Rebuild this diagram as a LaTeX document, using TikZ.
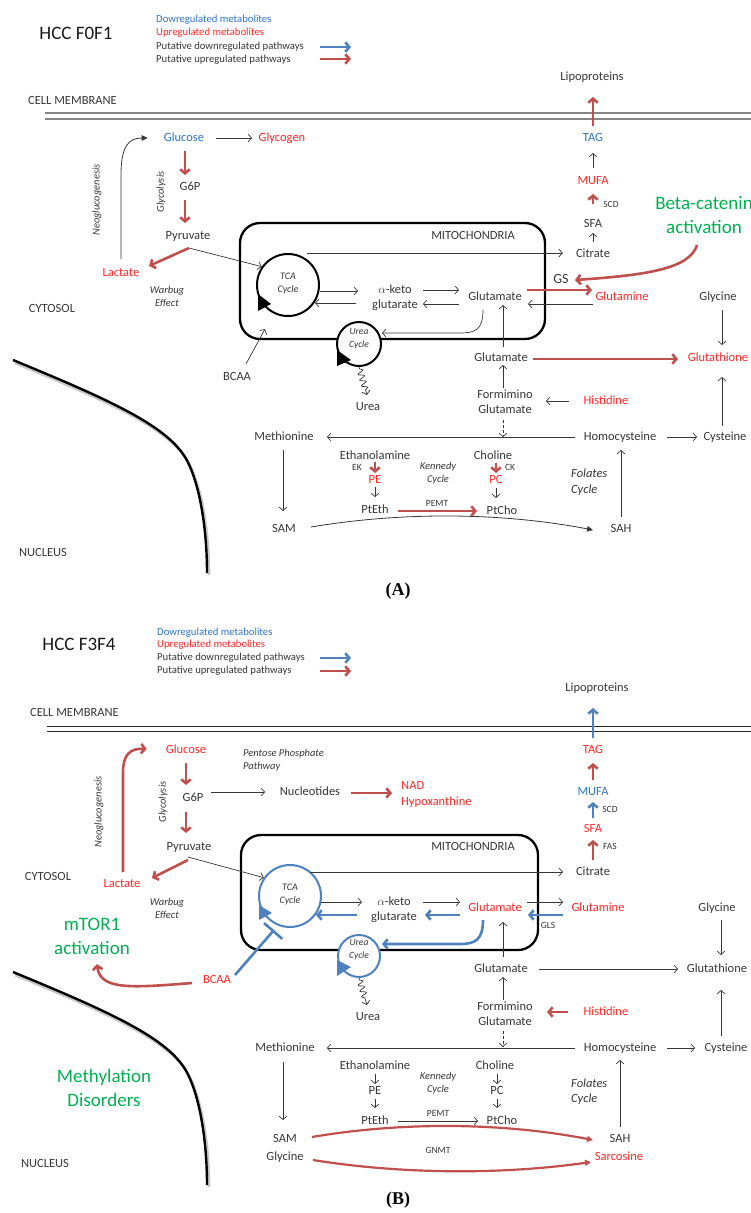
\documentclass[tikz,border=0pt]{standalone}
\usepackage{fontspec}
\setmainfont{Carlito}
\newfontfamily\labfont{Liberation Serif}
\usetikzlibrary{arrows.meta,decorations.pathmorphing,calc}
\definecolor{txtblue}{RGB}{46,117,200}
\definecolor{txtred}{RGB}{255,40,40}
\definecolor{arrred}{RGB}{192,80,77}
\definecolor{arrblue}{RGB}{79,129,189}
\definecolor{txtgreen}{RGB}{0,176,80}
\definecolor{ink}{RGB}{55,55,55}
\definecolor{memgray}{RGB}{135,135,135}
\begin{document}
\begin{tikzpicture}[x=1pt,y=-1pt,
  lbl/.style={font=\fontsize{12.5}{15}\selectfont,text=ink,inner sep=1pt,text height=9pt,text depth=3pt},
  two/.style={font=\fontsize{12.5}{15}\selectfont,text=ink,inner sep=1pt,align=center},
  twoL/.style={font=\fontsize{12.5}{16}\selectfont,text=ink,inner sep=0pt,align=left,anchor=west},
  leg/.style={font=\fontsize{10.7}{13}\selectfont,text=ink,inner sep=0pt,anchor=west},
  sml/.style={font=\fontsize{9.5}{11}\selectfont,text=ink,inner sep=1pt},
  itl/.style={font=\fontsize{10.5}{13}\selectfont\itshape,text=ink,inner sep=1pt,align=center},
  itlL/.style={font=\fontsize{10.5}{13}\selectfont\itshape,text=ink,inner sep=0pt,align=left,anchor=west},
  fol/.style={font=\fontsize{12.5}{15.5}\selectfont\itshape,text=ink,inner sep=0pt,align=left,anchor=west},
  cyc/.style={font=\fontsize{10}{13}\selectfont\itshape,text=ink,inner sep=0pt,align=center},
  grn/.style={font=\fontsize{19}{23.5}\selectfont,text=txtgreen,inner sep=0pt,align=center},
  ttl/.style={font=\fontsize{19}{22}\selectfont,text=black!90,inner sep=0pt},
  pnl/.style={font=\labfont\bfseries\fontsize{18}{20}\selectfont,inner sep=0pt},
  upm/.style={text=txtred}, dnm/.style={text=txtblue},
  tarr/.style={draw=ink,line width=0.7pt,-{Straight Barb[length=3.5pt,width=8pt]}},
  tarrf/.style={draw=ink,line width=0.8pt,-{Triangle[length=6pt,width=5.5pt]}},
  rarr/.style={draw=arrred,line width=2.6pt,-{Straight Barb[length=4pt,width=9.5pt]}},
  barr/.style={draw=arrblue,line width=2.6pt,-{Straight Barb[length=4pt,width=9.5pt]}},
  mito/.style={draw=black,line width=2.3pt,rounded corners=20pt,inner sep=0pt},
  circA/.style={circle,draw=black,line width=2pt,fill=white,inner sep=0pt},
  circB/.style={circle,draw=arrblue,line width=2pt,fill=white,inner sep=0pt},
  nuc/.style={draw=black,line width=2.4pt},
  nucs/.style={draw=black!22,line width=2.6pt},
  sq/.style={decorate,decoration={snake,amplitude=3pt,segment length=6pt,pre length=2pt,post length=5pt}},
]
\useasboundingbox (0,0) rectangle (751,1213);

% ================= PANEL A =================
\node[ttl] (ttlA) at (76,33) {HCC F0F1};
\node[leg,dnm] (lg1A) at (156,20) {Dowregulated metabolites};
\node[leg,upm] (lg2A) at (156,33) {Upregulated metabolites};
\node[leg] (lg3A) at (156,47) {Putative downregulated pathways};
\node[leg] (lg4A) at (156,60) {Putative upregulated pathways};
\draw[barr] ($(lg3A.west)+(164,0)$) -- ++(31,0);
\draw[rarr] ($(lg4A.west)+(164,-1)$) -- ++(31,0);
\node[lbl,anchor=west] (cmA) at (27,101) {CELL MEMBRANE};
\draw[memgray,line width=1.3pt] (45,113) -- (751,113) (45,119) -- (751,119);

% nucleus
\draw[nucs] (15,363) .. controls (112,403) and (167,428) .. (187,460) .. controls (202,485) and (209,533) .. (209,575);
\draw[nuc] (13,360) .. controls (110,400) and (165,425) .. (185,457) .. controls (200,482) and (207,530) .. (207,573);
\node[lbl] (nucA) at (43,553) {NUCLEUS};
\node[lbl] (cytA) at (52,309) {CYTOSOL};

% glycolysis
\node[lbl,dnm] (glcA) at (184,138) {Glucose};
\node[lbl,upm] (gcgA) at (282,138) {Glycogen};
\node[lbl] (g6pA) at (190,187) {G6P};
\node[lbl] (pyrA) at (188,236) {Pyruvate};
\node[lbl,upm] (lacA) at (121,273) {Lactate};
\node[itl,rotate=90] (glysA) at (161,192) {Glycolysis};
\node[itl,rotate=90] (neoA) at (97,200) {Neoglucogenesis};
\node[itl] (warA) at (167,296) {Warbug\\Effect};
\draw[tarr] ($(glcA.center)+(32,0)$) -- ($(gcgA.center)+(-30,0)$);
\draw[rarr] ($(glcA.center)+(1,13)$) -- ($(g6pA.center)+(-5,-12)$);
\draw[rarr] ($(g6pA.center)+(-5,13)$) -- ($(pyrA.center)+(-3,-13)$);
\draw[rarr] ($(pyrA.center)+(1,12)$) -- ($(lacA.center)+(28,-7)$);
\draw[tarrf,shorten >=15pt] ($(lacA.center)+(0,-14)$) -- (121,175) .. controls (121,147) and (128,138) .. (glcA.west);

% lipids
\node[lbl] (lipA) at (592,77) {Lipoproteins};
\node[lbl,dnm] (tagA) at (593,138) {TAG};
\node[lbl,upm] (mufaA) at (593,181) {MUFA};
\node[lbl] (sfaA) at (593,224) {SFA};
\node[lbl] (citA) at (593,254) {Citrate};
\node[sml] (scdA) at (611,204) {SCD};
\draw[rarr] ($(tagA.center)+(0,-12)$) -- ($(lipA.center)+(1,20)$);
\draw[tarr] ($(mufaA.center)+(0,-13)$) -- ($(tagA.center)+(0,15)$);
\draw[rarr] ($(sfaA.center)+(0,-20)$) -- ($(mufaA.center)+(0,13)$);
\draw[tarr] ($(citA.center)+(0,-12)$) -- ($(sfaA.center)+(0,9)$);

% mitochondria
\node[mito,minimum width=305pt,minimum height=116pt] (mitoA) at (392.5,281) {};
\node[lbl] (mitotA) at (473,236) {MITOCHONDRIA};
\node[circA,minimum size=62pt] (tcaA) at (288,285) {};
\node[cyc] (tcatA) at (288,284) {TCA\\Cycle};
\fill[black] (258,294) -- (258,311) -- (271,304) -- cycle;
\node[circA,minimum size=44pt] (ureaA) at (359,344) {};
\node[cyc,font=\fontsize{9.5}{13}\selectfont\itshape] (ureatA) at (359,339) {Urea\\Cycle};
\fill[black] (337,350) -- (337,366) -- (351,360) -- cycle;
\draw[tarr] ($(pyrA.center)+(1,12)$) -- (tcaA.145);

\node[two] (akgA) at (395,298) {$\alpha$-keto\\glutarate};
\node[lbl] (gluA) at (495,297) {Glutamate};
\node[lbl,upm] (glnA) at (622,297) {Glutamine};
\node[lbl] (glyA) at (718,297) {Glycine};
\node[font=\fontsize{14}{16}\selectfont,text=ink,inner sep=1pt] (gsA) at (561,279) {GS};
\draw[tarr,shorten >=12pt] ([xshift=19pt]tcaA.north) -- (tcaA.north -| citA.west);
\draw[tarr] ($(tcaA.center)+(32,6)$) -- ($(akgA.center)+(-37,-7)$);
\draw[tarr] ($(akgA.center)+(-39,5)$) -- ($(tcaA.center)+(27,18)$);
\draw[tarr] ($(akgA.center)+(28,-8)$) -- ($(gluA.center)+(-36,-7)$);
\draw[tarr] ($(gluA.center)+(-36,7)$) -- ($(akgA.center)+(28,6)$);
\draw[rarr] ($(gluA.center)+(32,-7)$) -- ($(glnA.center)+(-30,-7)$);
\draw[tarr] ($(glnA.center)+(-29,7)$) -- ($(gluA.center)+(33,7)$);
\draw[tarr] ($(gluA.center)+(-12,13)$) .. controls ($(gluA.center)+(-12,33)$) and ($(gluA.center)+(-20,36)$) .. ($(gluA.center)+(-35,36)$) -- ($(ureaA.center)+(23,-11)$);

\node[grn] (betaA) at (704,215) {Beta-catenin\\activation};
\draw[rarr] ($(betaA.center)+(-7,30)$) .. controls ($(betaA.center)+(-14,53)$) and ($(betaA.center)+(-54,60)$) .. ($(gsA.center)+(14,1)$);

% BCAA, urea
\node[lbl] (bcaaA) at (237,377) {BCAA};
\coordinate (bcaatA) at (265,329);
\draw[tarr] ($(bcaaA.center)+(9,-13)$) -- (bcaatA);
\node[lbl] (ureA) at (368,407) {Urea};
\draw[tarr,sq] (ureaA.south) -- ($(ureA.center)+(-1,-12)$);

% glutamate / glutathione
\node[lbl] (glu2A) at (501,358) {Glutamate};
\node[lbl,upm] (gshA) at (718,358) {Glutathione};
\node[two] (formA) at (505,402) {Formimino\\Glutamate};
\node[lbl,upm] (hisA) at (606,401) {Histidine};
\draw[tarr] ($(glu2A.center)+(2,-11)$) -- ($(gluA.center)+(8,8)$);
\draw[rarr] ($(glu2A.center)+(32,1)$) -- ($(gshA.center)+(-40,1)$);
\draw[tarr] ($(glyA.center)+(4,13)$) -- ($(gshA.center)+(4,-13)$);
\draw[tarr] ($(formA.center)+(-2,-14)$) -- ($(glu2A.center)+(2,7)$);
\draw[tarr] ($(hisA.center)+(-37,0)$) -- ($(formA.center)+(41,-1)$);

% methionine cycle
\node[lbl] (metA) at (284,437) {Methionine};
\node[lbl] (hcyA) at (620,437) {Homocysteine};
\node[lbl] (cysA) at (725,437) {Cysteine};
\draw[tarr] ($(hcyA.center)+(-45,0)$) -- ($(metA.center)+(43,0)$);
\draw[tarr] ($(hcyA.center)+(47,0)$) -- ($(cysA.center)+(-28,0)$);
\draw[tarr] ($(cysA.center)+(-3,-11)$) -- ($(gshA.center)+(4,19)$);
\draw[tarr,densely dashed] ($(formA.center)+(-2,18)$) -- ($(formA.center |- metA.center)+(-2,0)$);

% Kennedy
\node[lbl] (ethA) at (375,456) {Ethanolamine};
\node[sml] (ekA) at (357,467) {EK};
\node[lbl,upm] (peA) at (375,480) {PE};
\node[lbl] (ptethA) at (375,510) {PtEth};
\node[lbl] (cholA) at (493,456) {Choline};
\node[sml] (ckA) at (510,467) {CK};
\node[lbl,upm] (pcA) at (496,480) {PC};
\node[lbl] (ptchoA) at (502,511) {PtCho};
\node[itl] (kenA) at (438,473) {Kennedy\\Cycle};
\node[sml] (pemtA) at (437,503) {PEMT};
\node[fol] (folA) at (571,482) {Folates\\Cycle};
\draw[rarr] ($(ethA.center)+(0,6)$) -- ($(peA.center)+(0,-7)$);
\draw[tarr] ($(peA.center)+(0,7)$) -- ($(ptethA.center)+(0,-13)$);
\draw[rarr] ($(cholA.center)+(3,7)$) -- ($(pcA.center)+(0,-7)$);
\draw[tarr] ($(pcA.center)+(0,8)$) -- ($(ptchoA.center)+(-6,-13)$);
\draw[rarr] ($(ptethA.center)+(23,1)$) -- ($(ptchoA.center)+(-25,0)$);

\node[lbl] (samA) at (284,529) {SAM};
\node[lbl] (sahA) at (621,529) {SAH};
\draw[tarr] ($(metA.center)+(-1,13)$) -- ($(samA.center)+(-1,-18)$);
\draw[tarr] ($(sahA.center)+(0,-12)$) -- ($(hcyA.center)+(1,13)$);
\draw[tarrf] ($(samA.center)+(27,-2)$) .. controls (400,512) and (500,512) .. ($(sahA.center)+(-28,1)$);

\node[pnl] (pA) at (398,591) {(A)};

% ================= PANEL B =================
\begin{scope}[shift={(0,612)}]
\node[ttl] (ttlB) at (79,32) {HCC F3F4};
\node[leg,dnm] (lg1B) at (157,21) {Dowregulated metabolites};
\node[leg,upm] (lg2B) at (157,33) {Upregulated metabolites};
\node[leg] (lg3B) at (157,46) {Putative downregulated pathways};
\node[leg] (lg4B) at (157,59) {Putative upregulated pathways};
\draw[barr] ($(lg3B.west)+(163,0)$) -- ++(31,0);
\draw[rarr] ($(lg4B.west)+(163,0)$) -- ++(31,0);
\node[lbl,anchor=west] (cmB) at (29,101) {CELL MEMBRANE};
\draw[black!85,line width=0.9pt] (47,114) -- (751,114) (47,119) -- (751,119);

% nucleus
\draw[nucs] (15,363) .. controls (112,403) and (167,428) .. (187,460) .. controls (202,485) and (209,533) .. (209,575);
\draw[nuc] (13,360) .. controls (110,400) and (165,425) .. (185,457) .. controls (200,482) and (207,530) .. (207,573);
\node[lbl] (nucB) at (45,552) {NUCLEUS};
\node[lbl] (cytB) at (48,265) {CYTOSOL};
\node[grn] (mtorB) at (92,324.5) {mTOR1\\activation};
\node[grn] (methB) at (104,476) {Methylation\\Disorders};

% glycolysis
\node[lbl,upm] (glcB) at (186,138) {Glucose};
\node[itlL] (pppB) at (243,148.5) {Pentose Phosphate\\Pathway};
\node[lbl] (g6pB) at (193,186) {G6P};
\node[lbl] (nuclB) at (310,180) {Nucleotides};
\node[twoL,text=txtred] (nadB) at (401,182) {NAD\\Hypoxanthine};
\node[lbl] (pyrB) at (189,235) {Pyruvate};
\node[lbl,upm] (lacB) at (122,272) {Lactate};
\node[itl,rotate=90] (glysB) at (163,190) {Glycolysis};
\node[itl,rotate=90] (neoB) at (99,200) {Neoglucogenesis};
\node[itl] (warB) at (167,296) {Warbug\\Effect};
\draw[rarr] ($(glcB.center)+(0,13)$) -- ($(g6pB.center)+(-7,-13)$);
\draw[tarr] ($(g6pB.center)+(18,-6)$) -- ($(nuclB.center)+(-45,0)$);
\draw[rarr] ($(nuclB.center)+(41,1)$) -- ($(nadB.west)+(-9,-1)$);
\draw[rarr] ($(g6pB.center)+(-7,14)$) -- ($(pyrB.center)+(-3,-14)$);
\draw[rarr] ($(pyrB.center)+(-1,13)$) -- ($(lacB.center)+(30,-6)$);
\draw[rarr,shorten >=18pt] ($(lacB.center)+(1,-12)$) -- (123,160) .. controls (123,143) and (130,136) .. (glcB.west);

% lipids
\node[lbl] (lipB) at (597,76) {Lipoproteins};
\node[lbl,upm] (tagB) at (593,138) {TAG};
\node[lbl,dnm] (mufaB) at (593,180) {MUFA};
\node[lbl,upm] (sfaB) at (593,217) {SFA};
\node[lbl] (citB) at (593,260) {Citrate};
\node[sml] (scdB) at (610,197) {SCD};
\node[sml] (fasB) at (610,234) {FAS};
\draw[barr] ($(tagB.center)+(0,-12)$) -- ($(lipB.center)+(-4,20)$);
\draw[rarr] ($(mufaB.center)+(0,-12)$) -- ($(tagB.center)+(0,13)$);
\draw[barr] ($(sfaB.center)+(0,-11)$) -- ($(mufaB.center)+(0,10)$);
\draw[rarr] ($(citB.center)+(0,-12)$) -- ($(sfaB.center)+(0,11)$);

% mitochondria
\node[mito,minimum width=297pt,minimum height=115pt] (mitoB) at (389.5,280.5) {};
\node[lbl] (mitotB) at (473,235) {MITOCHONDRIA};
\node[circB,minimum size=62pt] (tcaB) at (290,284) {};
\node[cyc] (tcatB) at (290,282.5) {TCA\\Cycle};
\fill[arrblue] (259,293) -- (259,308) -- (272,301) -- cycle;
\node[circB,minimum size=42pt] (ureaB) at (359,344) {};
\node[cyc,font=\fontsize{9.5}{13}\selectfont\itshape] (ureatB) at (359,337.5) {Urea\\Cycle};
\fill[arrblue] (337,348) -- (337,364) -- (351,355) -- cycle;
\draw[tarr] ($(pyrB.center)+(-1,10)$) -- (tcaB.145);

\node[two] (akgB) at (394,297.5) {$\alpha$-keto\\glutarate};
\node[lbl,upm] (gluB) at (495,296) {Glutamate};
\node[lbl,upm] (glnB) at (598,296) {Glutamine};
\node[sml] (glsB) at (548,313) {GLS};
\node[lbl] (glyB) at (717,296) {Glycine};
\draw[tarr] ($(tcaB.center)+(20,-24)$) -- ($(citB.center)+(-30,0)$);
\draw[tarr] ($(tcaB.center)+(31,6)$) -- ($(akgB.center)+(-32,-7.5)$);
\draw[barr] ($(akgB.center)+(-37,5.5)$) -- ($(tcaB.center)+(26,19)$);
\draw[tarr] ($(akgB.center)+(29,-7.5)$) -- ($(gluB.center)+(-35,-6)$);
\draw[barr] ($(gluB.center)+(-35,7)$) -- ($(akgB.center)+(31,5.5)$);
\draw[tarr] ($(gluB.center)+(32,-6)$) -- ($(glnB.center)+(-35,-6)$);
\draw[barr] ($(glnB.center)+(-35,7)$) -- ($(gluB.center)+(33,7)$);
\draw[barr] ($(gluB.center)+(-12,12)$) .. controls ($(gluB.center)+(-12,32)$) and ($(gluB.center)+(-20,36)$) .. ($(gluB.center)+(-35,36)$) -- ($(ureaB.center)+(23,-12)$);

% BCAA, urea
\node[lbl,upm] (bcaaB) at (217,368) {BCAA};
\draw[draw=arrblue,line width=2.6pt,-{Bar[width=24pt]}] ($(bcaaB.center)+(18,-5)$) -- ($(tcaB.center)+(-16,34)$);
\draw[rarr] ($(bcaaB.center)+(-25,3)$) .. controls (130,376) and (100,378) .. ($(mtorB.center)+(5,27.5)$);
\node[lbl] (ureB) at (368,405) {Urea};
\draw[tarr,sq] (ureaB.south) -- ($(ureB.center)+(-1,-12)$);

% glutamate / glutathione
\node[lbl] (glu2B) at (501,357) {Glutamate};
\node[lbl] (gshB) at (717,357) {Glutathione};
\node[two] (formB) at (505,401.5) {Formimino\\Glutamate};
\node[lbl,upm] (hisB) at (606,400) {Histidine};
\draw[tarr] ($(glu2B.center)+(2,-12)$) -- ($(gluB.center)+(8,14)$);
\draw[tarr] ($(glu2B.center)+(38,0)$) -- ($(gshB.center)+(-39,0)$);
\draw[tarr] ($(glyB.center)+(4,12)$) -- ($(gshB.center)+(4,-14)$);
\draw[tarr] ($(formB.center)+(-2,-14)$) -- ($(glu2B.center)+(2,8)$);
\draw[rarr] ($(hisB.center)+(-38,0)$) -- ($(formB.center)+(42,-1.5)$);

% methionine cycle
\node[lbl] (metB) at (285,436) {Methionine};
\node[lbl] (hcyB) at (620,436) {Homocysteine};
\node[lbl] (cysB) at (726,436) {Cysteine};
\draw[tarr] ($(hcyB.center)+(-45,0)$) -- ($(metB.center)+(42,0)$);
\draw[tarr] ($(hcyB.center)+(47,0)$) -- ($(cysB.center)+(-31,0)$);
\draw[tarr] ($(cysB.center)+(-5,-12)$) -- ($(gshB.center)+(4,21)$);
\draw[tarr,densely dashed] ($(formB.center)+(-2,17)$) -- ($(formB.center |- metB.center)+(-2,-1)$);

% Kennedy
\node[lbl] (ethB) at (375,454) {Ethanolamine};
\node[lbl] (peB) at (375,479) {PE};
\node[lbl] (ptethB) at (375,509) {PtEth};
\node[lbl] (cholB) at (495,454) {Choline};
\node[lbl] (pcB) at (497,479) {PC};
\node[lbl] (ptchoB) at (502,509) {PtCho};
\node[itl] (kenB) at (438,471.5) {Kennedy\\Cycle};
\node[sml] (pemtB) at (438,501) {PEMT};
\node[fol] (folB) at (571,479.5) {Folates\\Cycle};
\draw[tarr] ($(ethB.center)+(0,8)$) -- ($(peB.center)+(0,-7)$);
\draw[tarr] ($(peB.center)+(0,8)$) -- ($(ptethB.center)+(0,-13)$);
\draw[tarr] ($(cholB.center)+(2,8)$) -- ($(pcB.center)+(0,-7)$);
\draw[tarr] ($(pcB.center)+(0,8)$) -- ($(ptchoB.center)+(-5,-13)$);
\draw[tarr] ($(ptethB.center)+(23,0)$) -- ($(ptchoB.center)+(-24,0)$);

\node[lbl] (samB) at (285,527) {SAM};
\node[lbl] (glycB) at (285,545) {Glycine};
\node[lbl] (sahB) at (620,527) {SAH};
\node[lbl,upm] (sarB) at (619,545) {Sarcosine};
\node[sml] (gnmtB) at (438,538) {GNMT};
\draw[tarr] ($(metB.center)+(-2,14)$) -- ($(samB.center)+(-2,-19)$);
\draw[tarr] ($(sahB.center)+(0,-12)$) -- ($(hcyB.center)+(0,12)$);
\draw[draw=arrred,line width=2.2pt,-{Triangle[length=6pt,width=6pt]}] ($(samB.center)+(27,-2)$) .. controls (400,510) and (500,510) .. ($(sahB.center)+(-27,1)$);
\draw[draw=arrred,line width=2.2pt,-{Triangle[length=6pt,width=6pt]}] ($(glycB.center)+(28,3)$) .. controls (400,562) and (500,563) .. ($(sarB.center)+(-28,5)$);

\node[pnl] (pB) at (398,588) {(B)};
\end{scope}
\end{tikzpicture}
\end{document}
